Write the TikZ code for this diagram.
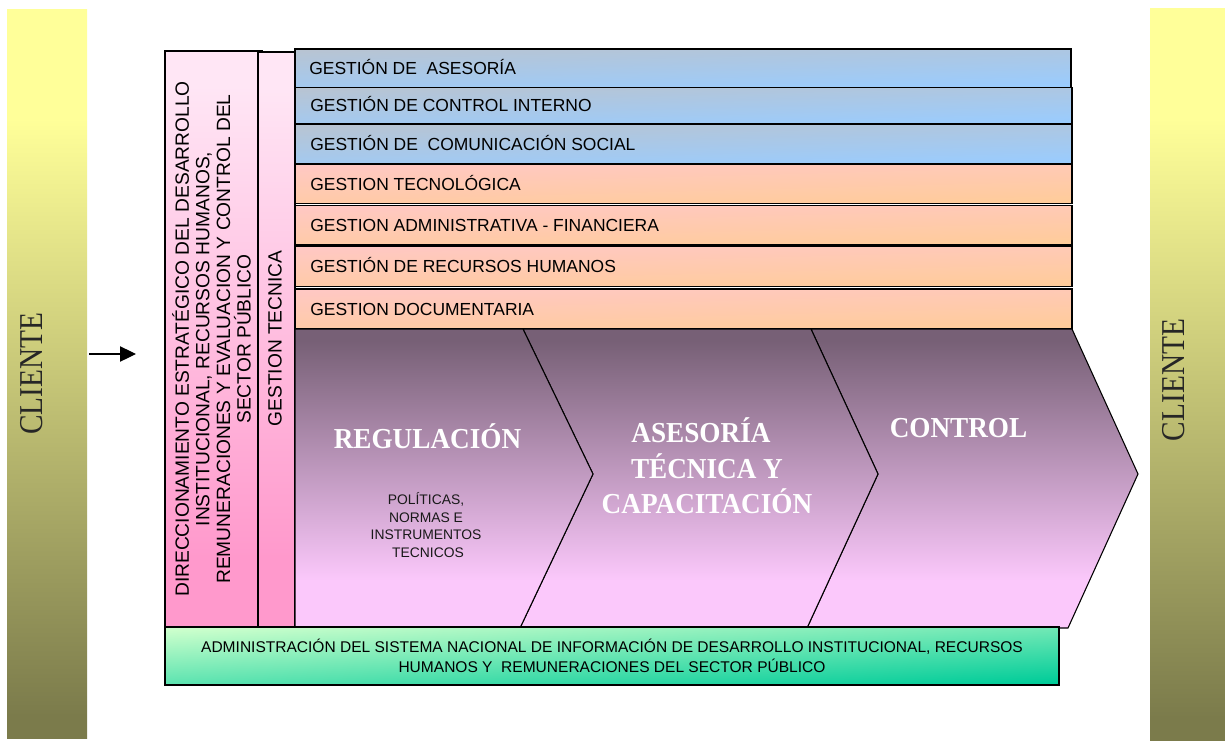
\documentclass[tikz,border=0pt]{standalone}
\usepackage{fontspec}
\setmainfont{Liberation Sans}
\newfontfamily\clientfont[FakeStretch=0.88]{Liberation Serif}
\newfontfamily\titlefont[FakeStretch=0.94]{Liberation Serif}
\usetikzlibrary{arrows.meta}
\definecolor{yelltop}{HTML}{FFFF99}
\definecolor{yellbot}{HTML}{7B7B4B}
\definecolor{pinktop}{HTML}{FFE6F5}
\definecolor{pinkbot}{HTML}{FF99CC}
\definecolor{bluel}{HTML}{B8C4D2}
\definecolor{bluer}{HTML}{99CCFF}
\definecolor{orl}{HTML}{FFC8C4}
\definecolor{orr}{HTML}{FFCC99}
\definecolor{grl}{HTML}{CCFFCC}
\definecolor{grr}{HTML}{00CC99}
\definecolor{purtop}{HTML}{776076}
\definecolor{purbot}{HTML}{FBC8FB}
\pgfdeclareverticalshading{chevshade}{100bp}{color(0bp)=(purbot); color(33bp)=(purbot); color(73bp)=(purtop); color(100bp)=(purtop)}
\pgfdeclareverticalshading{yellshade}{100bp}{color(0bp)=(yellbot); color(26.5bp)=(yellbot); color(67.5bp)=(yelltop); color(100bp)=(yelltop)}
\pgfdeclareverticalshading{pinkshade}{100bp}{color(0bp)=(pinkbot); color(31bp)=(pinkbot); color(72bp)=(pinktop); color(100bp)=(pinktop)}
\tikzset{
  x=0.75pt,y=-0.75pt,
  client/.style={shading=yellshade,draw=none},
  clienttext/.style={font=\clientfont\fontsize{25}{25}\selectfont,rotate=90,text=black!85},
  pinkcol/.style={draw=black,line width=0.9pt,shading=pinkshade},
  coltext/.style={font=\fontsize{14.4}{15.45}\selectfont,rotate=90,align=center,inner sep=0pt},
  bluebar/.style={draw=black,line width=0.9pt,shade,top color=bluel,bottom color=bluer,shading angle=1.5},
  orbar/.style={draw=black,line width=0.9pt,shade,top color=orl,bottom color=orr,shading angle=1.5},
  bartext/.style={font=\fontsize{13.1}{14}\selectfont,anchor=base west,inner sep=0pt},
  chev/.style={draw=black,line width=0.8pt,shading=chevshade},
  chevtitle/.style={font=\titlefont\bfseries\fontsize{21.7}{26.6}\selectfont,text=white,align=center,inner sep=0pt},
}
\begin{document}
\begin{tikzpicture}
\useasboundingbox (0,0) rectangle (1225,740);
\fill[white] (0,0) rectangle (1225,740);
% clients
\path[client] (7,9) rectangle (87,738);
\path[client] (1150,8) rectangle (1225,740);
\node[clienttext] (cl) at (32,373.5) {CLIENTE};
\node[clienttext] (cr) at (1174,380) {CLIENTE};
% left columns
\path[pinkcol] (165,51) rectangle (258,627);
\path[pinkcol] (258,52) rectangle (295,627);
\draw[line width=0.9pt] (258,51) -- (263,51);
\node[coltext] (dir) at (211.5,339) {DIRECCIONAMIENTO ESTRATÉGICO DEL DESARROLLO\\INSTITUCIONAL, RECURSOS HUMANOS,\\REMUNERACIONES Y EVALUACION Y CONTROL DEL\\SECTOR PÚBLICO};
\node[coltext] (tec) at (275,338.5) {GESTION TECNICA};
% bars
\path[bluebar] (295,49) rectangle (1071,87.5);
\path[bluebar] (295,87.5) rectangle (1072,124);
\path[bluebar] (295,124) rectangle (1072,164);
\path[orbar] (295,164) rectangle (1072,203.5);
\path[orbar] (295,205.3) rectangle (1072,245);
\path[orbar] (295,246.7) rectangle (1072,286.5);
\path[orbar] (295,289) rectangle (1072,329);
\node[bartext] (b1) at (309,74.5) {GESTIÓN DE\ \ ASESORÍA};
\node[bartext] (b2) at (310,111.5) {GESTIÓN DE CONTROL INTERNO};
\node[bartext] (b3) at (310,150.5) {GESTIÓN DE\ \ COMUNICACIÓN SOCIAL};
\node[bartext] (b4) at (310,190.5) {GESTION TECNOLÓGICA};
\node[bartext] (b5) at (310,231.5) {GESTION ADMINISTRATIVA - FINANCIERA};
\node[bartext] (b6) at (310,272.5) {GESTIÓN DE RECURSOS HUMANOS};
\node[bartext] (b7) at (310,315.5) {GESTION DOCUMENTARIA};
% chevrons (back to front)
\path[chev] (811,329) -- (1072,329) -- (1138,474) -- (1068,628) -- (807,628) -- (878,474) -- cycle;
\path[chev] (523,329) -- (811,329) -- (878,474) -- (807,628) -- (520,628) -- (593,474) -- cycle;
\path[chev] (295,329) -- (523,329) -- (593,474) -- (520,628) -- (295,628) -- cycle;
\node[chevtitle] (t1) at (427.5,436.5) {REGULACIÓN};
\node[chevtitle] (t2) at (707,466) {ASESORÍA\hspace*{9pt}\\TÉCNICA Y\hspace*{3pt}\\CAPACITACIÓN};
\node[chevtitle] (t3) at (958.5,428.5) {CONTROL};
\node[font=\fontsize{10.4}{13.4}\selectfont,align=center,inner sep=0pt,text=black!90] (pol) at (426,525) {POLÍTICAS,\\NORMAS E\\INSTRUMENTOS\\\hspace*{3pt}TECNICOS};
% bottom
\path[draw=black,line width=0.9pt,shade,top color=grl,bottom color=grr,shading angle=3] (165,627) rectangle (1059,685);
\node[font=\fontsize{11.65}{15}\selectfont,align=center,inner sep=0pt] (adm) at (612,655.5) {ADMINISTRACIÓN DEL SISTEMA NACIONAL DE INFORMACIÓN DE DESARROLLO INSTITUCIONAL, RECURSOS\\HUMANOS Y\ \ REMUNERACIONES DEL SECTOR PÚBLICO};
% arrow
\coordinate (as) at (89,354);
\coordinate (ae) at (136,354);
\draw[line width=0.9pt,-{Triangle[length=12pt,width=11.5pt]}] (as) -- (ae);
\end{tikzpicture}
\end{document}
